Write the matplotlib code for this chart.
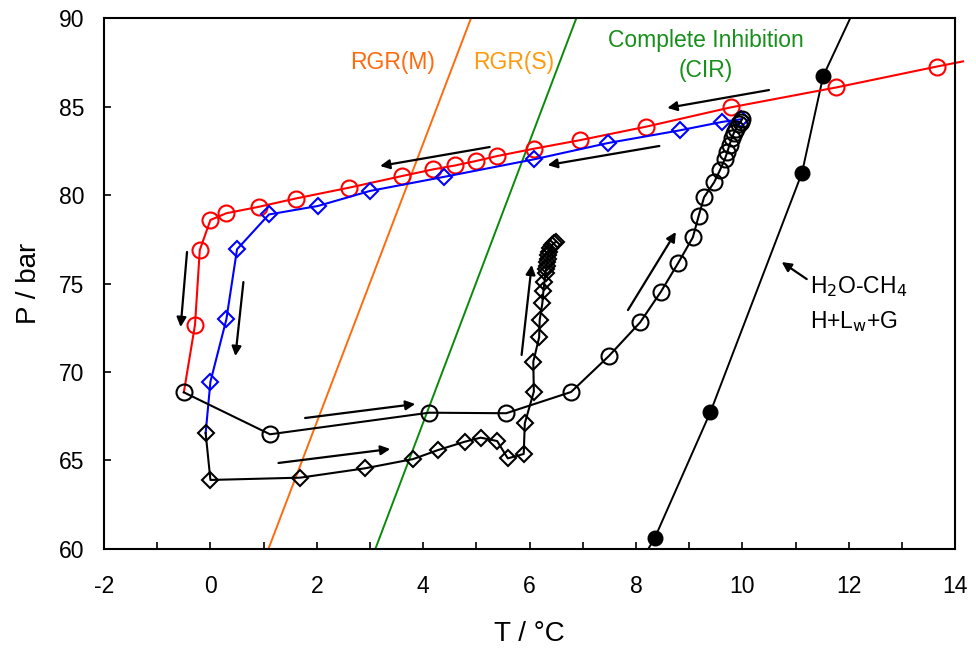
import matplotlib
matplotlib.use("Agg")
import matplotlib.pyplot as plt
from matplotlib.ticker import MultipleLocator

plt.rcParams['font.family'] = ['Liberation Sans', 'DejaVu Sans']
plt.rcParams['axes.unicode_minus'] = False

# cooling runs (red circles, blue diamonds)
red_T = [-0.5, -0.29, -0.2, 0.0, 0.3, 0.92, 1.6, 2.6, 3.6, 4.19, 4.6, 4.99, 5.39, 6.09, 6.95, 8.19, 9.78, 11.77, 13.66]
red_P = [68.85, 72.66, 76.89, 78.59, 78.97, 79.34, 79.8, 80.41, 81.07, 81.45, 81.67, 81.92, 82.2, 82.62, 83.1, 83.86, 84.95, 86.08, 87.26]
red_end = (14.15, 87.55)  # trend line runs on past the last point

blue_T = [-0.09, 0.0, 0.3, 0.5, 1.1, 2.02, 3.0, 4.4, 6.09, 7.48, 8.82, 9.62, 9.97]
blue_P = [66.55, 69.45, 72.98, 76.93, 78.9, 79.38, 80.23, 81.03, 82.02, 82.94, 83.65, 84.13, 84.28]

# heating runs (black)
circ_T = [-0.5, 1.12, 4.11, 5.56, 6.78, 7.49, 8.08, 8.47, 8.79, 9.07, 9.18, 9.28, 9.47, 9.58, 9.67,
          9.72, 9.76, 9.8, 9.84, 9.88, 9.93, 9.97, 10.0]
circ_P = [68.85, 66.48, 67.7, 67.67, 68.87, 70.9, 72.81, 74.54, 76.14, 77.61, 78.83, 79.87, 80.72, 81.41, 82.02,
          82.45, 82.85, 83.2, 83.5, 83.75, 84.0, 84.15, 84.3]

dia_T = [-0.09, 0.0, 1.69, 2.91, 3.81, 4.28, 4.78, 5.08, 5.39, 5.59, 5.89, 5.91, 6.08, 6.07, 6.18, 6.19,
         6.24, 6.26, 6.28, 6.3, 6.31, 6.32, 6.33, 6.34, 6.35, 6.36, 6.38, 6.42, 6.46, 6.5]
dia_P = [66.55, 63.9, 64.03, 64.56, 65.08, 65.59, 66.06, 66.29, 66.1, 65.12, 65.37, 67.1, 68.89, 70.58, 71.96, 72.94,
         73.88, 74.59, 75.1, 75.6, 75.8, 76.0, 76.2, 76.4, 76.6, 76.8, 77.0, 77.15, 77.3, 77.35]

# H2O-CH4 H+Lw+G equilibrium
eq_T = [8.35, 9.4, 11.12, 11.52]
eq_P = [60.6, 67.74, 81.24, 86.72]
eq_line_T = [8.23] + eq_T + [12.03]
eq_line_P = [60.0] + eq_P + [90.0]

# inhibition boundaries
rgrm_T = [1.09, 4.9]
rgrm_P = [60, 90]
rgrs_T = [3.1, 6.88]
rgrs_P = [60, 90]

# arrows: (tail T, tail P, head T, head P)
arrows = [
    (10.5, 85.93, 8.59, 84.92),
    (5.25, 82.71, 3.19, 81.64),
    (8.44, 82.77, 6.34, 81.69),
    (-0.44, 76.78, -0.56, 72.54),
    (0.62, 75.08, 0.47, 70.9),
    (1.78, 67.4, 3.85, 68.19),
    (1.28, 64.86, 3.38, 65.65),
    (5.85, 70.96, 6.04, 76.05),
    (7.85, 73.5, 8.75, 77.91),
    (11.21, 75.25, 10.74, 76.21),
]

fig = plt.figure(figsize=(9.76, 6.48), dpi=100)
ax = fig.add_axes([0.1066, 0.1528, 0.872, 0.8194])

ax.plot(rgrm_T, rgrm_P, color='#ff6a0d', lw=1.4)
ax.plot(rgrs_T, rgrs_P, color='#0a8a0a', lw=1.4)
ax.plot(eq_line_T, eq_line_P, color='black', lw=1.4)
ax.plot(eq_T, eq_P, 'o', color='black', ms=10.5)

ax.plot(red_T + [red_end[0]], red_P + [red_end[1]], color='red', lw=1.5, clip_on=False)
ax.plot(red_T[1:], red_P[1:], 'o', mfc='none', mec='red', ms=11.5, mew=1.5)
ax.plot(blue_T, blue_P, color='blue', lw=1.5)
ax.plot(blue_T[1:], blue_P[1:], 'D', mfc='none', mec='blue', ms=8.5, mew=1.5)

ax.plot(circ_T, circ_P, color='black', lw=1.5, marker='o', mfc='none', mec='black', ms=11.5, mew=1.5)
ax.plot(dia_T, dia_P, color='black', lw=1.5, marker='D', mfc='none', mec='black', ms=8.5, mew=1.5)

for t0, p0, t1, p1 in arrows:
    ax.annotate('', xy=(t1, p1), xytext=(t0, p0),
                arrowprops=dict(arrowstyle='-|>', color='black', lw=1.6, mutation_scale=14,
                                shrinkA=0, shrinkB=0))

ax.text(3.43, 87.5, 'RGR(M)', color='#ff6a0d', fontsize=16.5, ha='center', va='center')
ax.text(5.71, 87.5, 'RGR(S)', color='#ff9a0d', fontsize=16.5, ha='center', va='center')
ax.text(9.32, 88.75, 'Complete Inhibition', color='#16901a', fontsize=16.5, ha='center', va='center')
ax.text(9.32, 87.05, '(CIR)', color='#16901a', fontsize=16.5, ha='center', va='center')
ax.text(11.27, 74.85, 'H$_2$O-CH$_4$', fontsize=16.5, ha='left', va='center')
ax.text(11.27, 72.85, 'H+L$_\\mathrm{w}$+G', fontsize=16.5, ha='left', va='center')

ax.set_xlim(-2, 14)
ax.set_ylim(60, 90)
ax.xaxis.set_major_locator(MultipleLocator(2))
ax.xaxis.set_minor_locator(MultipleLocator(1))
ax.yaxis.set_major_locator(MultipleLocator(5))
ax.tick_params(which='both', direction='in', length=5, width=1.2, labelsize=16.5)
ax.tick_params(axis='x', which='both', top=False, pad=19)
ax.tick_params(axis='y', right=False, pad=14)
for s in ax.spines.values():
    s.set_linewidth(1.5)
ax.set_xlabel('T / °C', fontsize=20, labelpad=16)
ax.set_ylabel('P / bar', fontsize=20, labelpad=12)

fig.savefig('out.png', dpi=100)
